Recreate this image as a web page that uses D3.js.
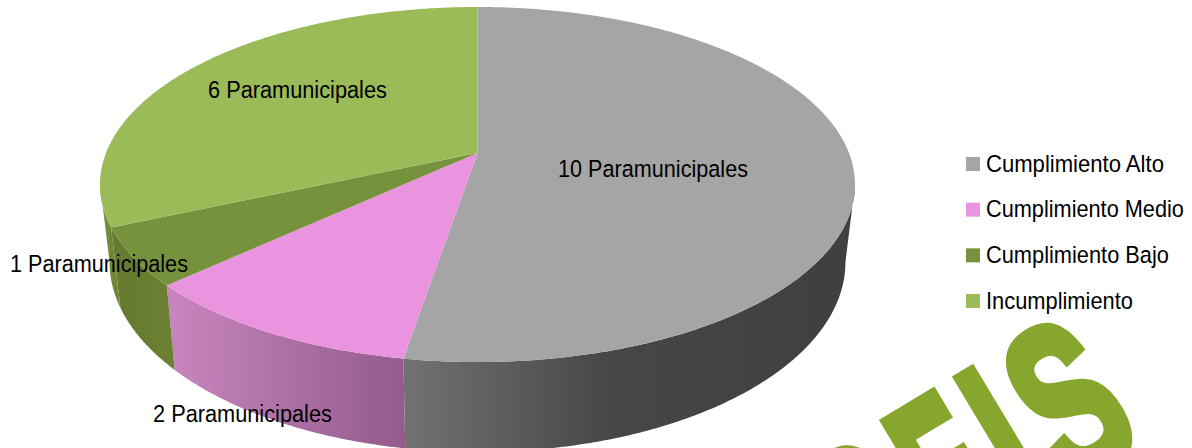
<!DOCTYPE html>
<html lang="es">
<head>
<meta charset="UTF-8">
<title>Cumplimiento Paramunicipales</title>
<script src="https://d3js.org/d3.v7.min.js"></script>
<style>
  html, body { margin: 0; background: #fff; overflow: hidden; }
  text { font-family: "Liberation Sans", Arial, sans-serif; fill: #000; }
</style>
</head>
<body>
<div id="chart"></div>
<script>
// Data
const categories = ["Cumplimiento Alto", "Cumplimiento Medio", "Cumplimiento Bajo", "Incumplimiento"];
const values = [10, 2, 1, 6];
const sliceLabels = ["10 Paramunicipales", "2 Paramunicipales", "1 Paramunicipales", "6 Paramunicipales"];
const topColors = ["#a5a5a5", "#ea94e0", "#76923c", "#9bbb59"];
const sideStops = [
  [[0, "#727272"], [0.45, "#474747"], [1, "#3f3f3f"]],
  [[0, "#c985c0"], [1, "#925c8b"]],
  [[0, "#66792f"], [1, "#6b8032"]],
  [[0, "#7f9a48"], [1, "#6f8737"]]
];
const logoLetters = ["R", "E", "I", "S"];

const width = 1192, height = 448;
const svg = d3.select("#chart").append("svg")
  .attr("width", width).attr("height", height).style("display", "block");
const defs = svg.append("defs");

// perspective projection of the unit disc, u to the right, v towards the viewer
const cx = 477.5, persp = -0.1775;
const topDisc = {a: 371.5, b: 144.8, c: 153};
const botDisc = {a: 362.1, b: 143.5, c: 228.3};
function project(disc, angle) {
  const u = Math.sin(angle), v = -Math.cos(angle), w = 1 + persp * v;
  return [cx + disc.a * u / w, (disc.b * v + disc.c) / w];
}

const arcs = d3.pie().sort(null)(values);
const color = d3.scaleOrdinal(categories, topColors);
const line = d3.line();
const step = Math.PI / 360;

// sample the rim between two angles, ending exactly on the last one
function rim(a0, a1) {
  const n = Math.ceil((a1 - a0) / step);
  return d3.range(n + 1).map(i => a0 + (a1 - a0) * i / n);
}

// the wall is only seen between the two widest points of the disc
const wideAngle = Math.acos(persp);
const walls = arcs.map((d, i) => ({
  i,
  a0: Math.max(d.startAngle, wideAngle),
  a1: Math.min(d.endAngle, 2 * Math.PI - wideAngle)
}));

walls.forEach(w => {
  const xs = rim(w.a0, w.a1).map(a => project(topDisc, a)[0]);
  const g = defs.append("linearGradient").attr("id", "side" + w.i)
    .attr("gradientUnits", "userSpaceOnUse")
    .attr("x1", d3.min(xs)).attr("x2", d3.max(xs)).attr("y1", 0).attr("y2", 0);
  sideStops[w.i].forEach(s => g.append("stop").attr("offset", s[0]).attr("stop-color", s[1]));
});

svg.append("g").selectAll("path").data(walls).join("path")
  .attr("d", w => {
    const r = rim(w.a0, w.a1);
    return line(r.map(a => project(topDisc, a)).concat(r.reverse().map(a => project(botDisc, a)))) + "Z";
  })
  .attr("fill", w => `url(#side${w.i})`);

// top face
svg.append("g").selectAll("path").data(arcs).join("path")
  .attr("d", d => line([[cx, topDisc.c]].concat(rim(d.startAngle, d.endAngle).map(a => project(topDisc, a)))) + "Z")
  .attr("fill", (d, i) => color(categories[i]));

// squeeze a text to the width it has in the picture
function fitWidth(sel, x, y, w) {
  sel.each(function(d, i) {
    const len = this.getComputedTextLength();
    d3.select(this).attr("transform", `translate(${x(i)},${y(i)}) scale(${w(i) / len},1)`);
  });
}

// slice labels
const labelPos = [[558, 177], [153, 422], [10, 272], [208, 98]];
const labelLen = [190, 179, 178, 179];
svg.append("g").selectAll("text").data(sliceLabels).join("text")
  .attr("font-size", 24.5)
  .text(d => d)
  .call(fitWidth, i => labelPos[i][0], i => labelPos[i][1], i => labelLen[i]);

// legend
const legendY = d3.scalePoint(categories, [164, 301]);
const legendLen = [178, 198, 183, 147];
const legend = svg.append("g");
legend.selectAll("rect").data(categories).join("rect")
  .attr("x", 966).attr("y", d => legendY(d) - 7)
  .attr("width", 14).attr("height", 14)
  .attr("fill", d => color(d));
legend.selectAll("text").data(categories).join("text")
  .attr("font-size", 24.5)
  .text(d => d)
  .call(fitWidth, () => 986, i => legendY(categories[i]) + 7.5, i => legendLen[i]);

// logo lettering, cut off by the picture edge
const logoX = [-16, -3.5, 80.5, 128];
const logoScaleX = [1, 0.81, 0.95, 1.0];
svg.append("g")
  .attr("transform", "translate(879,422) rotate(-31)")
  .selectAll("text").data(logoLetters).join("text")
  .attr("transform", (d, i) => `translate(${logoX[i]},155.5) scale(${logoScaleX[i]},1.63)`)
  .attr("text-anchor", (d, i) => i === 0 ? "end" : "start")
  .attr("font-size", 135)
  .attr("font-weight", "bold")
  .attr("stroke", "#86a62e")
  .attr("stroke-width", 9)
  .attr("vector-effect", "non-scaling-stroke")
  .attr("stroke-linejoin", "miter")
  .style("fill", "#86a62e")
  .text(d => d);
</script>
</body>
</html>
